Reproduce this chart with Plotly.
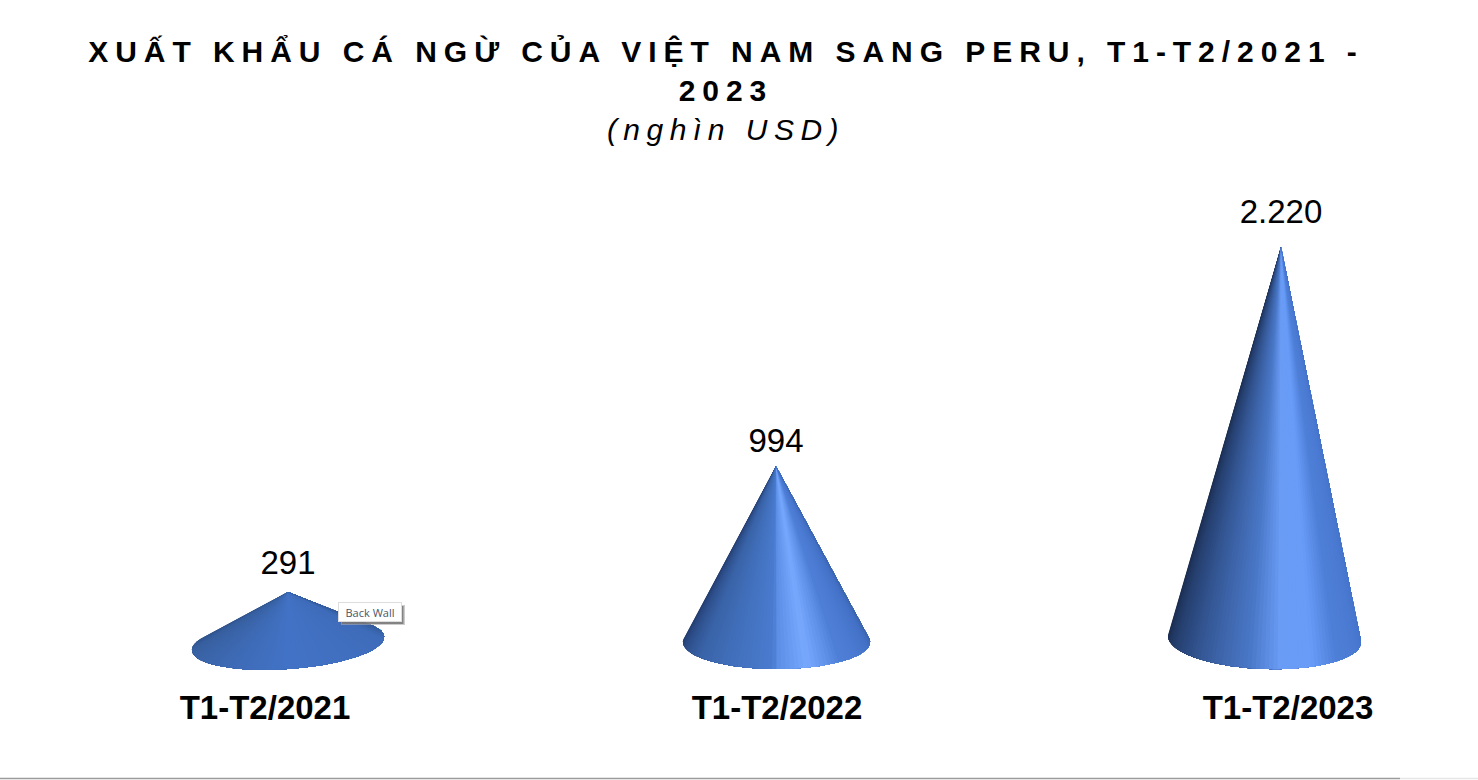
import plotly.graph_objects as go
import numpy as np

periods = ["T1-T2/2021", "T1-T2/2022", "T1-T2/2023"]
values = [291, 994, 2220]

title_line1 = "XUẤT KHẨU CÁ NGỪ CỦA VIỆT NAM SANG PERU, T1-T2/2021 -"
title_line2 = "2023"
title_line3 = "(nghìn USD)"

W, H = 1478, 780
PX = 5.59  # value units per screen pixel
AXIS_BOTTOM = 685  # px from top where the x axis sits
ZERO_PX = 644
STEP_PX = 496.5
FIRST_PX = 288

# cone shape, in px relative to the baseline / cone centre
half_left = [96, 93, 113]
half_right = [96, 94, 80]
cone_nudge = [0, -8.5, 0]
left_drop = [6, -2, -8]
right_drop = [-7, -2, -2]
front_depth = [25.5, 27, 30]
back_wrap = [0.5, 0.12, 0.03]  # how far the outline goes round the back of the base
label_gap = [26, 22, 32]
tick_nudge = [-23, -7.5, 7]

shades = [
    [(0, "#2f4f88"), (.12, "#38609f"), (.5, "#4373c6"), (.85, "#3f6cba"), (1, "#325894")],
    [(0, "#22396a"), (.22, "#3a64a8"), (.49, "#4a7cd0"), (.5, "#5b8ee6"), (.6, "#78a9ff"),
     (.72, "#4f80d8"), (.9, "#4472c8"), (1, "#3a62a8")],
    [(0, "#1a2b4c"), (.2, "#2c4a80"), (.45, "#4a78c8"), (.55, "#6a9cf5"), (.66, "#689cf8"),
     (.76, "#4f80d8"), (1, "#4674cc")],
]


def shade(stops, t):
    pos = [s[0] for s in stops]
    rgb = np.array([[int(s[1][i:i + 2], 16) for i in (1, 3, 5)] for s in stops])
    c = [np.interp(t, pos, rgb[:, i]) for i in range(3)]
    return "rgb(%d,%d,%d)" % tuple(c)


def to_x(i, px):
    return i + px / STEP_PX


fig = go.Figure()
n = 70
for i, v in enumerate(values):
    phi = np.linspace(-back_wrap[i], np.pi + back_wrap[i], n + 1)
    frac = (1 - np.cos(phi)) / 2
    xs_px = -half_left[i] + (half_left[i] + half_right[i]) * frac + cone_nudge[i]
    drop = left_drop[i] + (right_drop[i] - left_drop[i]) * frac + front_depth[i] * np.sin(phi)
    xs = to_x(i, xs_px)
    ys = -drop * PX
    apex_x = to_x(i, cone_nudge[i])
    # each band runs on to the right edge, the next one paints over it, so no seams
    for k in range(n):
        col = shade(shades[i], (k + .5) / n)
        fig.add_trace(go.Scatter(
            x=[apex_x, *xs[k:], apex_x], y=[v, *ys[k:], v],
            mode="none", fill="toself", fillcolor=col,
            hoverinfo="skip", showlegend=False))

fig.add_trace(go.Scatter(
    x=[to_x(i, cone_nudge[i]) for i in range(3)],
    y=[v + g * PX for v, g in zip(values, label_gap)],
    customdata=values,
    mode="text", texttemplate="%{customdata:,}", textposition="middle center",
    textfont=dict(family="Liberation Sans", size=33, color="black"),
    hoverinfo="skip", showlegend=False))

fig.update_layout(
    width=W, height=H, margin=dict(l=0, r=0, t=0, b=0),
    paper_bgcolor="white", plot_bgcolor="white", separators=",.",
    title=dict(
        text="<b>%s</b><br><b>%s</b><br><i>%s</i>" % (title_line1, title_line2, title_line3),
        x=726 / W, xanchor="center", y=1 - 62 / H, yanchor="top",
        font=dict(family="Liberation Sans", size=30, color="black")),
    xaxis=dict(
        range=[-FIRST_PX / STEP_PX, (W - FIRST_PX) / STEP_PX],
        tickvals=[to_x(i, tick_nudge[i]) for i in range(3)], ticktext=["<b>%s</b>" % p for p in periods],
        tickfont=dict(family="Liberation Sans", size=33, color="black"),
        showgrid=False, zeroline=False, showline=False, ticks=""),
    yaxis=dict(
        domain=[(H - AXIS_BOTTOM) / H, 1],
        range=[(ZERO_PX - AXIS_BOTTOM) * PX, ZERO_PX * PX],
        visible=False),
    shapes=[
        dict(type="line", xref="paper", yref="paper", x0=0, x1=1400 / W, y0=1.5 / H, y1=1.5 / H,
             line=dict(color="#9a9a9a", width=1.5)),
        dict(type="line", xref="paper", yref="paper", x0=1400 / W, x1=1, y0=1.5 / H, y1=1.5 / H,
             line=dict(color="#e6e6e6", width=1.5)),
        dict(type="rect", xref="paper", yref="paper", x0=341 / W, x1=405 / W, y0=1 - 625 / H, y1=1 - 605 / H,
             fillcolor="#aaaaaa", opacity=0.6, line=dict(width=0)),
        dict(type="rect", xref="paper", yref="paper", x0=342 / W, x1=403.5 / W, y0=1 - 624 / H, y1=1 - 606 / H,
             fillcolor="#707070", opacity=0.8, line=dict(width=0)),
    ],
    annotations=[dict(
        text="Back Wall", xref="paper", yref="paper", x=370 / W, y=1 - 612 / H,
        xanchor="center", yanchor="middle", width=62, height=18,
        showarrow=False, bgcolor="white", bordercolor="#dddddd", borderwidth=1, borderpad=0,
        font=dict(family="Open Sans", size=11, color="#4a5568"))],
)

page_fix = """
document.body.style.margin = '0';
var gd = document.getElementById('{plot_id}');
gd.querySelector('.gtitle').style.letterSpacing = '6.95px';
gd.querySelectorAll('.gtitle tspan').forEach(function(t) {
    if (t.style.fontStyle === 'italic') t.style.letterSpacing = '6.5px';
});
"""
fig.write_html("out.html", post_script=page_fix, config={"displayModeBar": False})
